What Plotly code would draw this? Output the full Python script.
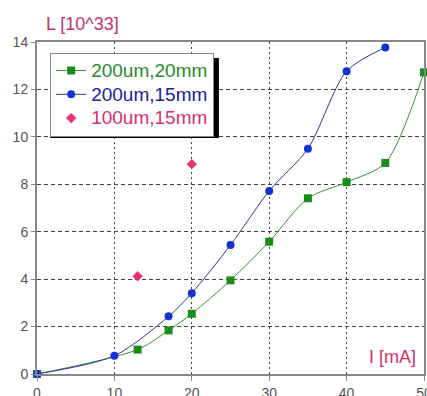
import plotly.graph_objects as go

green_x = [0, 13, 17, 20, 25, 30, 35, 40, 45, 50]
green_y = [0, 1.03, 1.84, 2.54, 3.95, 5.58, 7.41, 8.09, 8.9, 12.72]
blue_x = [0, 10, 17, 20, 25, 30, 35, 40, 45]
blue_y = [0, 0.77, 2.43, 3.41, 5.44, 7.72, 9.5, 12.77, 13.77]
pink_x = [13, 20]
pink_y = [4.12, 8.85]

x_ticks = [0, 10, 20, 30, 40, 50]
y_ticks = [0, 2, 4, 6, 8, 10, 12, 14]

FONT = "Liberation Sans, Arial, sans-serif"
GREEN, BLUE, PINK = "#1a8c1a", "#1432d2", "#e8336e"

def lab(text, color):
    return f'<span style="color:{color};font-size:19px">{text}</span>'

fig = go.Figure()
fig.add_trace(go.Scatter(x=green_x, y=green_y, mode="lines+markers",
                         name=lab("200um,20mm", "#2a8a2a"),
                         line=dict(color="#3c8c3c", width=1, shape="spline", smoothing=0.8),
                         marker=dict(symbol="square", size=8, color=GREEN),
                         cliponaxis=False))
fig.add_trace(go.Scatter(x=blue_x, y=blue_y, mode="lines+markers",
                         name=lab("200um,15mm", "#2020a0"),
                         line=dict(color="#303890", width=1, shape="spline", smoothing=0.8),
                         marker=dict(symbol="circle", size=8, color=BLUE),
                         cliponaxis=False))
fig.add_trace(go.Scatter(x=pink_x, y=pink_y, mode="markers",
                         name=lab("100um,15mm", "#d8306e"),
                         marker=dict(symbol="diamond", size=8, color=PINK),
                         cliponaxis=False))

fig.update_layout(
    width=427, height=396,
    margin=dict(l=37, r=3, t=42, b=22, autoexpand=False),
    paper_bgcolor="white", plot_bgcolor="white",
    font=dict(family=FONT, size=14, color="#555555"),
    showlegend=True,
    legend=dict(x=0.034, y=0.968, xanchor="left", yanchor="top",
                bgcolor="white", bordercolor="#888888", borderwidth=1,
                font=dict(family=FONT, size=16), tracegroupgap=0,
                itemwidth=30),
    xaxis=dict(range=[0, 50], tickvals=x_ticks, showgrid=True, gridcolor="#444444",
               griddash="2px,3px", gridwidth=1, showline=True, linecolor="#888888",
               linewidth=2, mirror=True, ticks="outside", ticklen=5, tickcolor="#888888",
               zeroline=False, automargin=False, ticklabeloverflow="allow",
               tickfont=dict(size=14, color="#555555")),
    yaxis=dict(range=[0, 14], tickvals=y_ticks, showgrid=True, gridcolor="#444444",
               griddash="4px,3px", gridwidth=1, showline=True, linecolor="#888888",
               linewidth=2, mirror=True, ticks="outside", ticklen=4, tickcolor="#888888",
               zeroline=False, automargin=False, ticklabeloverflow="allow",
               tickfont=dict(size=14, color="#555555")),
    annotations=[
        dict(text="L [10^33]", xref="paper", yref="paper", x=0.018, y=1.053,
             xanchor="left", yanchor="middle", showarrow=False,
             font=dict(family=FONT, size=18, color="#c8306a")),
        dict(text="I [mA]", xref="paper", yref="paper", x=0.985, y=0.05,
             xanchor="right", yanchor="middle", showarrow=False,
             font=dict(family=FONT, size=18, color="#d8306a")),
    ],
    shapes=[
        dict(type="rect", xref="paper", yref="paper", x0=0.034, x1=0.470,
             y0=0.711, y1=0.952, fillcolor="black", line=dict(width=0), layer="above"),
    ],
)

fig.write_html("out.html", config={"displayModeBar": False},
               post_script="document.body.style.margin='0';document.body.style.overflow='hidden';")
